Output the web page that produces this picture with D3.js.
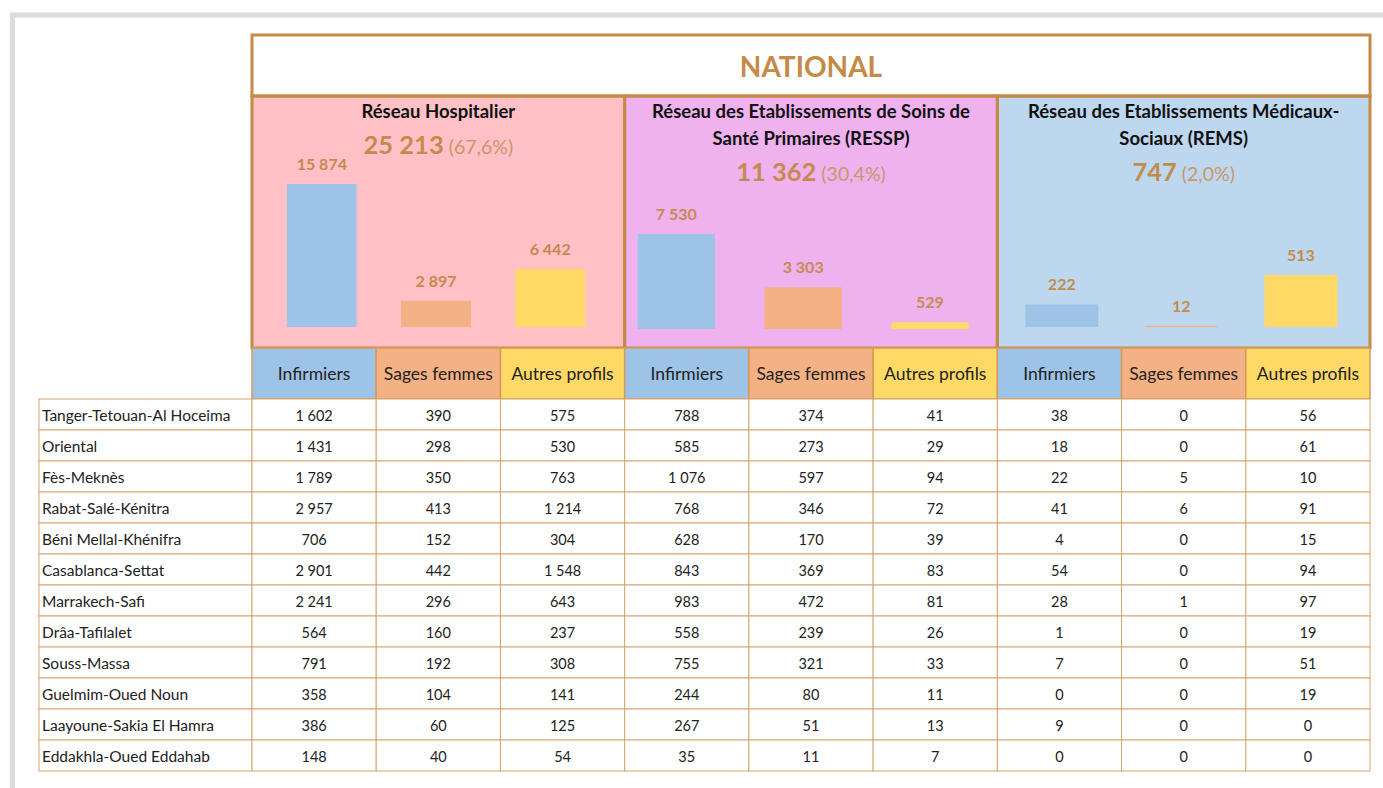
<!DOCTYPE html>
<html>
<head>
<meta charset="utf-8">
<script src="https://cdn.jsdelivr.net/npm/d3@7"></script>
<style>
  body { margin: 0; background: #fff; }
  svg { display: block; font-family: Lato, "Open Sans", sans-serif; }
</style>
</head>
<body>
<svg id="chart" width="1383" height="788"></svg>
<script>
// data
const regions = ["Tanger-Tetouan-Al Hoceima", "Oriental", "Fès-Meknès", "Rabat-Salé-Kénitra",
  "Béni Mellal-Khénifra", "Casablanca-Settat", "Marrakech-Safi", "Drâa-Tafilalet",
  "Souss-Massa", "Guelmim-Oued Noun", "Laayoune-Sakia El Hamra", "Eddakhla-Oued Eddahab"];
const profiles = ["Infirmiers", "Sages femmes", "Autres profils"];
const networkTitles = [["Réseau Hospitalier"],
  ["Réseau des Etablissements de Soins de", "Santé Primaires (RESSP)"],
  ["Réseau des Etablissements Médicaux-", "Sociaux (REMS)"]];
const networkTotals = [25213, 11362, 747];
const networkShares = ["(67,6%)", "(30,4%)", "(2,0%)"];
const profileTotals = [[15874, 2897, 6442], [7530, 3303, 529], [222, 12, 513]];

// rows: Infirmiers, Sages femmes, Autres profils
const hospitalier = [[1602, 390, 575], [1431, 298, 530], [1789, 350, 763], [2957, 413, 1214],
  [706, 152, 304], [2901, 442, 1548], [2241, 296, 643], [564, 160, 237],
  [791, 192, 308], [358, 104, 141], [386, 60, 125], [148, 40, 54]];
const ressp = [[788, 374, 41], [585, 273, 29], [1076, 597, 94], [768, 346, 72],
  [628, 170, 39], [843, 369, 83], [983, 472, 81], [558, 239, 26],
  [755, 321, 33], [244, 80, 11], [267, 51, 13], [35, 11, 7]];
const rems = [[38, 0, 56], [18, 0, 61], [22, 5, 10], [41, 6, 91],
  [4, 0, 15], [54, 0, 94], [28, 1, 97], [1, 0, 19],
  [7, 0, 51], [0, 0, 19], [9, 0, 0], [0, 0, 0]];

// styles
const tan = "#c68a47";
const tanText = "#c48b4f";
const panelFill = ["#ffc0c6", "#efb2ef", "#bdd7ee"];
const profileFill = ["#9dc3e6", "#f4b183", "#ffd966"];
// bar plot insets inside each panel (left, right, baseline)
const plotBox = [[35, 333, 327], [13, 344, 329], [28, 340, 327]];
const plotTop = [184, 234, 275];

const fmt = d3.formatLocale({decimal: ",", thousands: " ", grouping: [3], currency: ["", ""]}).format(",d");

const svg = d3.select("#chart");

// outer grey frame
svg.append("rect").attr("x", 12.5).attr("y", 15).attr("width", 1400).attr("height", 800)
  .attr("fill", "none").attr("stroke", "#dcdcdc").attr("stroke-width", 5);

const left = 252, right = 1370;
const col = d3.scaleBand().domain(d3.range(9)).range([left, right]);
const panelX = d3.scaleBand().domain(d3.range(3)).range([left, right]);

const headTop = 348, headH = 51, rowTop = 399, rowH = 31;
const row = d3.scaleBand().domain(d3.range(regions.length)).range([rowTop, rowTop + rowH * regions.length]);

// panels backgrounds
svg.selectAll("rect.panel").data(d3.range(3)).join("rect")
  .attr("class", "panel")
  .attr("x", i => panelX(i)).attr("y", 96)
  .attr("width", panelX.bandwidth()).attr("height", headTop - 96)
  .attr("fill", i => panelFill[i]);

// bars per panel
d3.range(3).forEach(p => {
  const x0 = panelX(p);
  const vals = profileTotals[p];
  const x = d3.scaleBand().domain(d3.range(3))
    .range([x0 + plotBox[p][0], x0 + plotBox[p][1]]).paddingInner(0.39).paddingOuter(0);
  const y = d3.scaleLinear().domain([0, d3.max(vals)]).range([plotBox[p][2], plotTop[p]]);
  const g = svg.append("g");
  g.selectAll("rect").data(vals).join("rect")
    .attr("x", (d, i) => x(i)).attr("width", x.bandwidth())
    .attr("y", d => y(d)).attr("height", d => Math.max(1.5, y(0) - y(d)))
    .attr("fill", (d, i) => profileFill[i]);
  g.selectAll("text").data(vals).join("text")
    .attr("x", (d, i) => x(i) + x.bandwidth() / 2)
    .attr("y", d => y(d) - 14)
    .attr("text-anchor", "middle")
    .attr("font-size", 16).attr("font-weight", "bold").attr("fill", tanText)
    .text(d => fmt(d));

  // titles
  const cx = x0 + panelX.bandwidth() / 2;
  const titles = networkTitles[p];
  titles.forEach((t, k) => {
    svg.append("text").attr("x", cx).attr("y", 117.5 + k * 27)
      .attr("text-anchor", "middle").attr("font-size", 18.5).attr("font-weight", "bold")
      .attr("fill", "#111").text(t);
  });
  const tot = svg.append("text").attr("x", cx).attr("y", titles.length === 1 ? 154 : 181)
    .attr("text-anchor", "middle").attr("fill", tanText);
  tot.append("tspan").attr("font-size", 25.5).attr("font-weight", "bold").text(fmt(networkTotals[p]));
  tot.append("tspan").attr("font-size", 19.5).attr("fill", "#c9976a").text(" " + networkShares[p]);
});

// panel borders
svg.selectAll("rect.pb").data(d3.range(3)).join("rect")
  .attr("class", "pb")
  .attr("x", i => panelX(i)).attr("y", 96)
  .attr("width", panelX.bandwidth()).attr("height", headTop - 96)
  .attr("fill", "none").attr("stroke", tan).attr("stroke-width", 3);

// NATIONAL box
svg.append("rect").attr("x", left).attr("y", 35).attr("width", right - left).attr("height", 61)
  .attr("fill", "none").attr("stroke", tan).attr("stroke-width", 3);
svg.append("text").attr("x", (left + right) / 2).attr("y", 77)
  .attr("text-anchor", "middle").attr("font-size", 28).attr("font-weight", "bold")
  .attr("fill", tan).text("NATIONAL");

// header cells
svg.selectAll("rect.hd").data(d3.range(9)).join("rect")
  .attr("class", "hd")
  .attr("x", i => col(i)).attr("y", headTop)
  .attr("width", col.bandwidth()).attr("height", headH)
  .attr("fill", i => profileFill[i % 3]).attr("stroke", "#d59a5c").attr("stroke-width", 1.5);
svg.selectAll("text.hd").data(d3.range(9)).join("text")
  .attr("class", "hd")
  .attr("x", i => col(i) + col.bandwidth() / 2).attr("y", headTop + headH / 2 + 6)
  .attr("text-anchor", "middle").attr("font-size", 17.5).attr("fill", "#222")
  .text(i => profiles[i % 3]);

// table body
const cells = [];
regions.forEach((r, ri) => {
  [hospitalier, ressp, rems].forEach((net, ni) => {
    net[ri].forEach((v, pi) => cells.push({ri, c: ni * 3 + pi, v}));
  });
});
const body = svg.append("g");
body.selectAll("rect.lab").data(regions).join("rect")
  .attr("x", 39).attr("y", (d, i) => row(i)).attr("width", left - 39).attr("height", rowH)
  .attr("fill", "#fff").attr("stroke", "#d8a46c").attr("stroke-width", 1);
body.selectAll("rect.cell").data(cells).join("rect")
  .attr("x", d => col(d.c)).attr("y", d => row(d.ri)).attr("width", col.bandwidth()).attr("height", rowH)
  .attr("fill", "#fff").attr("stroke", "#d8a46c").attr("stroke-width", 1);
body.selectAll("text.lab").data(regions).join("text")
  .attr("x", 42).attr("y", (d, i) => row(i) + rowH / 2 + 6)
  .attr("font-size", 15.5).attr("fill", "#222").text(d => d);
body.selectAll("text.cell").data(cells).join("text")
  .attr("x", d => col(d.c) + col.bandwidth() / 2).attr("y", d => row(d.ri) + rowH / 2 + 6)
  .attr("text-anchor", "middle").attr("font-size", 14.5).attr("fill", "#222")
  .text(d => fmt(d.v));
</script>
</body>
</html>
